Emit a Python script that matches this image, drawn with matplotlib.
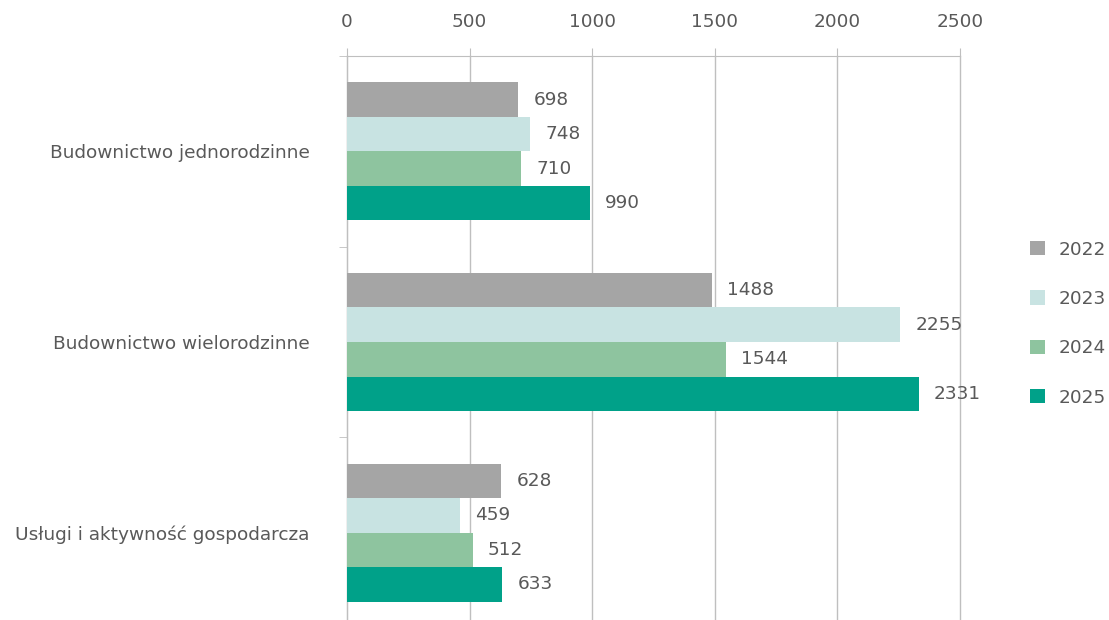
import matplotlib.pyplot as plt
import numpy as np

categories = ["Budownictwo jednorodzinne", "Budownictwo wielorodzinne", "Usługi i aktywność gospodarcza"]
years = ["2022", "2023", "2024", "2025"]
v2022 = [698, 1488, 628]
v2023 = [748, 2255, 459]
v2024 = [710, 1544, 512]
v2025 = [990, 2331, 633]
colors = ["#a5a5a5", "#c8e3e2", "#8ec49f", "#00a189"]

txt = "#595959"
grid = "#bfbfbf"
fs = 13.3
plt.rcParams['font.family'] = ['DejaVu Sans']

fig = plt.figure(figsize=(11.09, 6.20), dpi=100)
ax = fig.add_axes([0.3129, -0.0129, 0.5528, 0.9226])

y = np.arange(len(categories))
h = 0.181
series = [v2022, v2023, v2024, v2025]
for i, (vals, col, yr) in enumerate(zip(series, colors, years)):
    pos = y + (i - 1.5) * h
    bars = ax.barh(pos, vals, height=h, color=col, label=yr, zorder=3)
    for b, v in zip(bars, vals):
        ax.annotate(str(v), (b.get_width(), b.get_y() + b.get_height() / 2),
                    xytext=(11, 0), textcoords="offset points",
                    va="center", ha="left", fontsize=fs, color=txt)

ax.set_xlim(0, 2500)
ax.set_ylim(2.5, -0.5)
ax.xaxis.tick_top()
ax.set_xticks(range(0, 2501, 500))
ax.tick_params(axis="x", colors=grid, labelcolor=txt, labelsize=fs, length=6, pad=12)
ax.grid(axis="x", color=grid, linewidth=1, zorder=0)
for gl in ax.get_xgridlines():
    gl.set_clip_on(False)

ax.set_yticks(y)
ax.set_yticklabels(categories)
ax.set_yticks([-0.5, 0.5, 1.5, 2.5], minor=True)
ax.tick_params(axis="y", which="major", length=0, pad=27, labelsize=fs, labelcolor=txt)
ax.tick_params(axis="y", which="minor", length=6, color=grid)

for s in ["right", "bottom"]:
    ax.spines[s].set_visible(False)
ax.spines["top"].set_color(grid)
ax.spines["left"].set_color(grid)

leg = fig.legend(loc="center left", bbox_to_anchor=(0.914, 0.478), frameon=False,
                 fontsize=fs, labelspacing=1.7, handlelength=0.81, handleheight=0.81,
                 handletextpad=0.72)
for t in leg.get_texts():
    t.set_color(txt)

fig.savefig("out.png", dpi=100)
